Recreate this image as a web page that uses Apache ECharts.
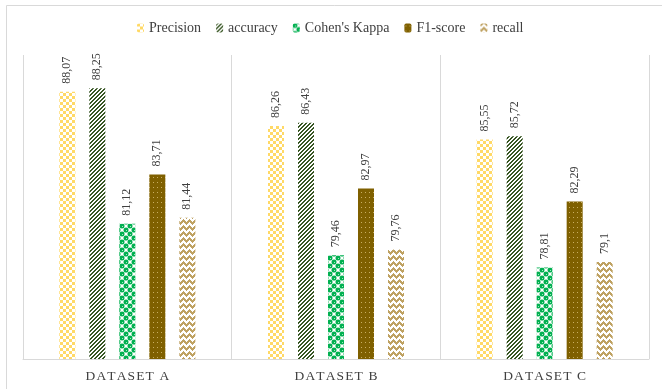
<!DOCTYPE html>
<html>
<head>
<meta charset="utf-8">
<script src="https://cdn.jsdelivr.net/npm/echarts@6/dist/echarts.min.js"></script>
<style>
  html, body { margin: 0; padding: 0; background: #fff; }
  #chart { width: 662px; height: 389px; }
</style>
</head>
<body>
<div id="chart"></div>
<script>
// Chart data
const categories = ['DATASET A', 'DATASET B', 'DATASET C'];
const seriesNames = ['Precision', 'accuracy', "Cohen's Kappa", 'F1-score', 'recall'];
const precision = [88.07, 86.26, 85.55];
const accuracy = [88.25, 86.43, 85.72];
const kappa = [81.12, 79.46, 78.81];
const f1score = [83.71, 82.97, 82.29];
const recall = [81.44, 79.76, 79.1];
const seriesValues = [precision, accuracy, kappa, f1score, recall];

// Small repeating fill tiles for each series
function tile(w, h, paint) {
  const c = document.createElement('canvas');
  c.width = w; c.height = h;
  const ctx = c.getContext('2d');
  ctx.fillStyle = '#ffffff';
  ctx.fillRect(0, 0, w, h);
  paint(ctx);
  return { image: c, repeat: 'repeat' };
}
function px(ctx, color, test, w, h) {
  ctx.fillStyle = color;
  for (let y = 0; y < h; y++) for (let x = 0; x < w; x++) if (test(x, y)) ctx.fillRect(x, y, 1, 1);
}
function dot(ctx, cx, cy, r) {
  ctx.beginPath(); ctx.arc(cx, cy, r, 0, Math.PI * 2); ctx.fill();
}

const fills = [
  // checkerboard
  tile(6, 6, ctx => px(ctx, '#FFD966', (x, y) => ((Math.floor(x / 3) + Math.floor(y / 3)) % 2) === 0, 6, 6)),
  // rising diagonal stripes
  tile(4, 4, ctx => px(ctx, '#375623', (x, y) => ((x + y) % 4) < 2, 4, 4)),
  // round dots in a checker layout
  tile(8, 8, ctx => {
    ctx.fillStyle = '#00B050';
    [[2, 2], [6, 6], [10, -2], [-2, 10], [10, 2], [6, -2], [-2, 6], [2, 10], [-2, -2], [10, 10], [6, 10], [10, 6]]
      .forEach(p => dot(ctx, p[0], p[1], 2.5));
    ctx.fillStyle = '#9EE6BC';
    ctx.fillRect(2, 2, 1, 1); ctx.fillRect(6, 6, 1, 1);
  }),
  // dark fill with small light dots
  tile(4, 5, ctx => {
    ctx.fillStyle = '#7F6000'; ctx.fillRect(0, 0, 4, 5);
    ctx.fillStyle = '#C9AE62'; ctx.fillRect(1, 2, 1, 1);
  }),
  // zigzag weave
  tile(6, 6, ctx => px(ctx, '#BFA262', (x, y) => (x < 3 ? ((x + y) % 6) < 3 : ((y - x + 12) % 6) < 3), 6, 6))
];

function fmt(v) { return String(v).replace('.', ','); }

const series = seriesNames.map((name, i) => ({
  name: name,
  type: 'bar',
  data: seriesValues[i],
  barWidth: 16,
  barGap: '87.5%',
  itemStyle: { color: fills[i] },
  label: {
    show: true,
    position: 'top',
    rotate: 90,
    align: 'left',
    verticalAlign: 'middle',
    distance: 8,
    formatter: p => fmt(p.value),
    fontFamily: 'Liberation Serif',
    fontSize: 12,
    color: '#404040'
  }
}));

const chart = echarts.init(document.getElementById('chart'), null, { renderer: 'canvas' });
chart.setOption({
  animation: false,
  backgroundColor: '#ffffff',
  graphic: [{
    type: 'rect',
    shape: { x: 6.5, y: 5.5, width: 700, height: 420 },
    style: { fill: 'none', stroke: '#d9d9d9', lineWidth: 1 },
    silent: true
  }],
  legend: {
    top: 16,
    left: 132,
    itemWidth: 7,
    itemHeight: 9,
    itemGap: 15,
    textStyle: { fontFamily: 'Liberation Serif', fontSize: 14, color: '#404040' },
    data: seriesNames
  },
  grid: { left: 23, right: 13, top: 55, bottom: 30, containLabel: false },
  xAxis: {
    type: 'category',
    data: categories,
    axisLine: { show: true, lineStyle: { color: '#d9d9d9' } },
    axisTick: { show: false },
    splitLine: { show: true, showMinLine: true, showMaxLine: true, lineStyle: { color: '#d9d9d9' } },
    axisLabel: {
      margin: 10,
      fontFamily: 'Liberation Serif',
      fontSize: 13.5,
      color: '#404040',
      formatter: v => v.split('').join('\u200A')
    }
  },
  yAxis: {
    type: 'value',
    min: 74,
    max: 90,
    show: false,
    splitLine: { show: false }
  },
  series: series
});
</script>
</body>
</html>
